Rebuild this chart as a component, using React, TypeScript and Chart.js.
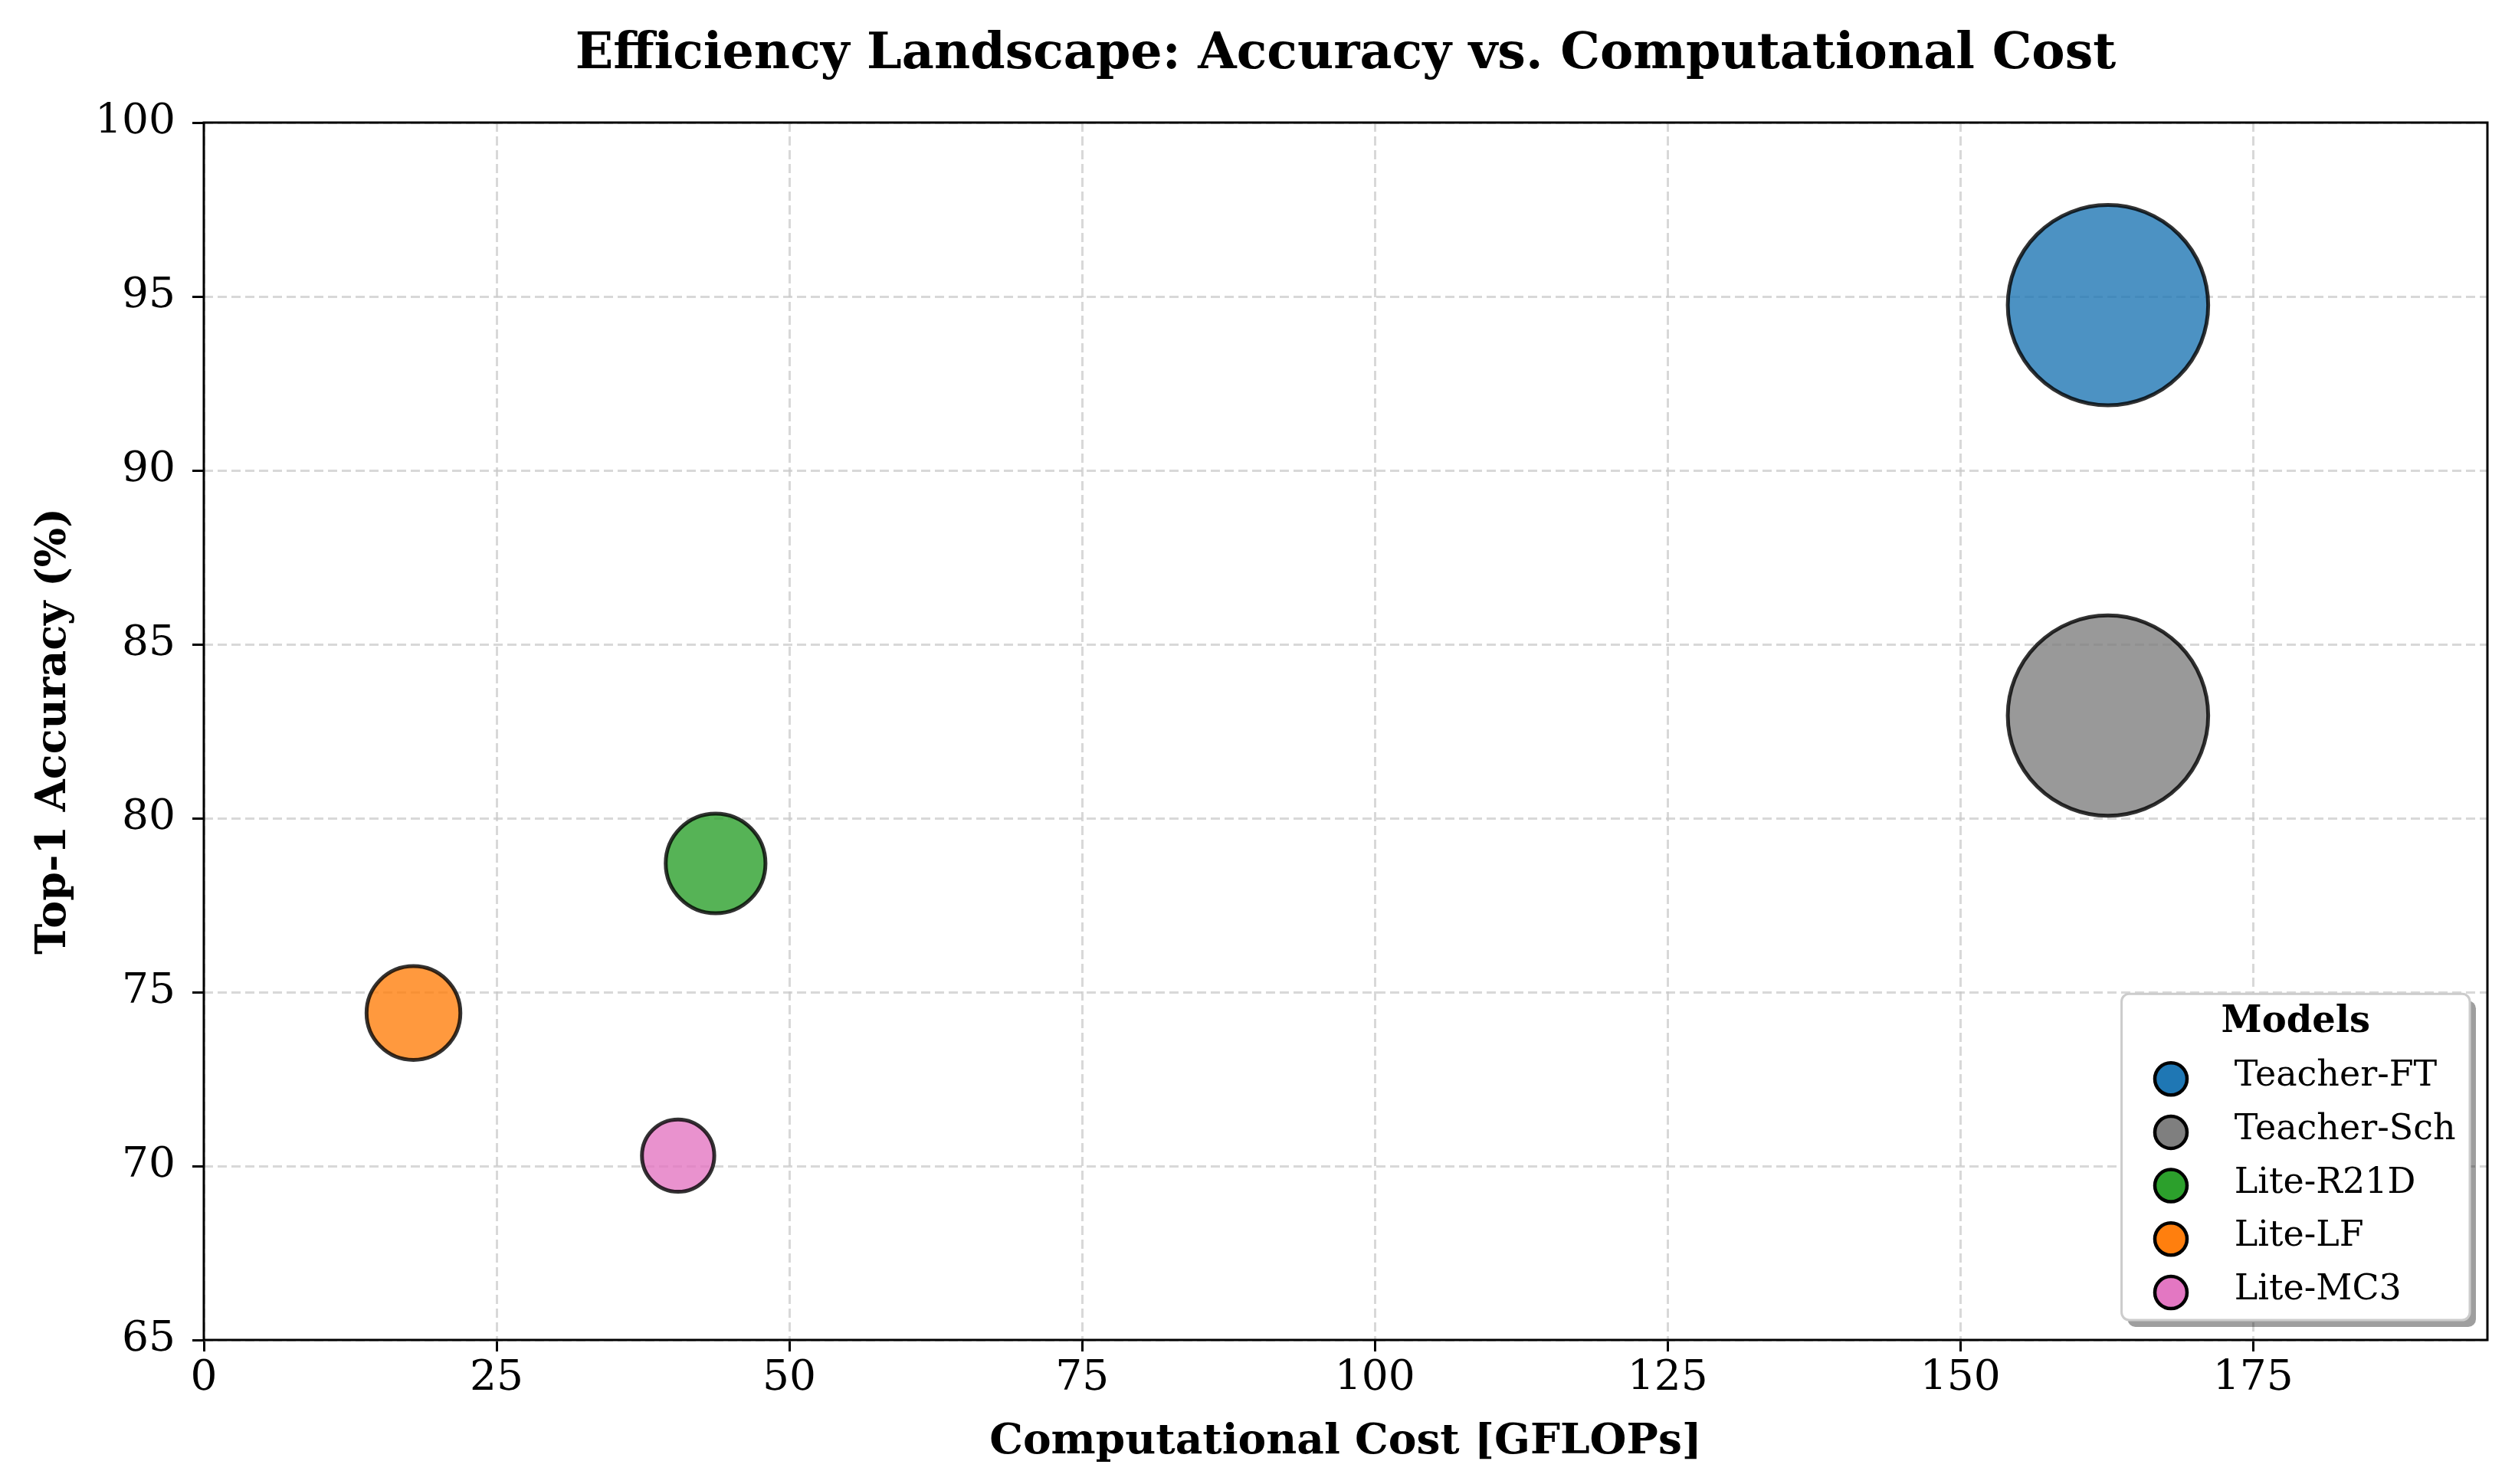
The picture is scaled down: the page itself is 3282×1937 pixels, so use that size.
import { useEffect, useRef } from 'react';
import { Chart, registerables } from 'chart.js';

Chart.register(...registerables);

const FONT = '"DejaVu Serif", serif';

const modelNames = ['Teacher-FT', 'Teacher-Sch', 'Lite-R21D', 'Lite-LF', 'Lite-MC3'];
const gflops = [162.6, 162.6, 43.7, 17.9, 40.5];
const top1Accuracy = [94.75, 82.95, 78.7, 74.4, 70.3];
// bubble area ~ model size (M params)
const modelSize = [31.5, 31.5, 7.8, 6.9, 4.1];
const modelColors = ['#1f77b4', '#7f7f7f', '#2ca02c', '#ff7f0e', '#e377c2'];

const xTicks = [0, 25, 50, 75, 100, 125, 150, 175];
const yTicks = [65, 70, 75, 80, 85, 90, 95, 100];

const rgba = (hex: string, a: number) => {
  const n = parseInt(hex.slice(1), 16);
  return `rgba(${n >> 16}, ${(n >> 8) & 255}, ${n & 255}, ${a})`;
};

// frame around the plot + matplotlib-like legend in the lower right
const frameAndLegend = {
  id: 'frameAndLegend',
  afterDraw(chart: Chart) {
    const { ctx, chartArea } = chart;
    ctx.save();
    ctx.strokeStyle = '#000';
    ctx.lineWidth = 3;
    ctx.strokeRect(chartArea.left, chartArea.top, chartArea.width, chartArea.height);

    const fontPx = 46;
    ctx.font = `${fontPx}px ${FONT}`;
    const textW = Math.max(...modelNames.map((n) => ctx.measureText(n).width));
    const pad = 0.4 * fontPx;
    const handle = 2 * fontPx;
    const textPad = 0.8 * fontPx;
    const rowGap = 69.7;
    const w = 2 * pad + handle + textPad + textW;
    const h = 36 + (modelNames.length - 1) * rowGap + 111;
    const right = chartArea.right - 23;
    const bottom = chartArea.bottom - 26;
    const left = right - w;
    const top = bottom - h;

    // shadow
    ctx.fillStyle = 'rgba(0, 0, 0, 0.38)';
    ctx.beginPath();
    ctx.roundRect(left + 8, top + 9, w, h, 10);
    ctx.fill();

    ctx.fillStyle = '#fff';
    ctx.strokeStyle = '#cccccc';
    ctx.lineWidth = 3;
    ctx.beginPath();
    ctx.roundRect(left, top, w, h, 10);
    ctx.fill();
    ctx.stroke();

    ctx.fillStyle = '#000';
    ctx.font = `bold 48px ${FONT}`;
    ctx.textAlign = 'center';
    ctx.textBaseline = 'alphabetic';
    ctx.fillText('Models', left + w / 2, top + 50);

    ctx.font = `${fontPx}px ${FONT}`;
    ctx.textAlign = 'left';
    modelNames.forEach((name, i) => {
      const cy = top + 111 + i * rowGap;
      ctx.beginPath();
      ctx.arc(left + pad + handle / 2, cy, 21, 0, Math.PI * 2);
      ctx.fillStyle = modelColors[i];
      ctx.fill();
      ctx.lineWidth = 4.5;
      ctx.strokeStyle = '#000';
      ctx.stroke();
      ctx.fillStyle = '#000';
      ctx.fillText(name, left + pad + handle + textPad, cy + 9);
    });
    ctx.restore();
  },
};

export default function App() {
  const canvasRef = useRef<HTMLCanvasElement>(null);

  useEffect(() => {
    if (!canvasRef.current) return;

    const datasets = modelNames.map((name, i) => ({
      label: name,
      data: [{ x: gflops[i], y: top1Accuracy[i], r: 23.3 * Math.sqrt(modelSize[i]) }],
      backgroundColor: rgba(modelColors[i], 0.8),
      borderColor: 'rgba(0, 0, 0, 0.8)',
      borderWidth: 5,
    }));

    const gridStyle = {
      color: 'rgba(200, 200, 200, 0.7)',
      lineWidth: 3,
      drawTicks: true,
      tickLength: 15,
      tickColor: '#000',
      tickWidth: 3,
    };

    const chart = new Chart(canvasRef.current, {
      type: 'bubble',
      data: { datasets },
      plugins: [frameAndLegend],
      options: {
        animation: false,
        responsive: true,
        maintainAspectRatio: false,
        devicePixelRatio: 1,
        layout: { autoPadding: false, padding: { left: 0, right: 28, top: 0, bottom: 0 } },
        plugins: {
          legend: { display: false },
          tooltip: { enabled: false },
          title: {
            display: true,
            fullSize: false, // centre over the plot area like matplotlib
            text: 'Efficiency Landscape: Accuracy vs. Computational Cost',
            color: '#000',
            font: { family: FONT, size: 65, weight: 'bold', lineHeight: 1.2 },
            padding: { top: 25, bottom: 49 },
          },
        },
        scales: {
          x: {
            type: 'linear',
            min: 0,
            max: 195,
            z: 1,
            afterBuildTicks: (s: any) => {
              s.ticks = xTicks.map((v) => ({ value: v }));
            },
            afterFit: (s: any) => {
              s.height = 180;
            },
            ticks: { color: '#000', font: { family: FONT, size: 55 }, padding: 3, maxRotation: 0 },
            grid: gridStyle,
            border: { display: false, dash: [12, 6] },
            title: {
              display: true,
              text: 'Computational Cost [GFLOPs]',
              color: '#000',
              font: { family: FONT, size: 55, weight: 'bold', lineHeight: 1.2 },
              padding: { top: 0, bottom: 13 },
            },
          },
          y: {
            type: 'linear',
            min: 65,
            max: 100,
            z: 1,
            afterBuildTicks: (s: any) => {
              s.ticks = yTicks.map((v) => ({ value: v }));
            },
            afterFit: (s: any) => {
              s.width = 258;
            },
            ticks: { color: '#000', font: { family: FONT, size: 55 }, padding: 22 },
            grid: gridStyle,
            border: { display: false, dash: [12, 6] },
            title: {
              display: true,
              text: 'Top-1 Accuracy (%)',
              color: '#000',
              font: { family: FONT, size: 54, weight: 'bold', lineHeight: 1.2 },
              padding: { top: 31, bottom: 0 },
            },
          },
        },
      },
    });

    return () => {
      chart.destroy();
    };
  }, []);

  return (
    <div style={{ width: 3266, height: 1921, position: 'relative', background: '#fff' }}>
      <canvas ref={canvasRef} />
    </div>
  );
}
